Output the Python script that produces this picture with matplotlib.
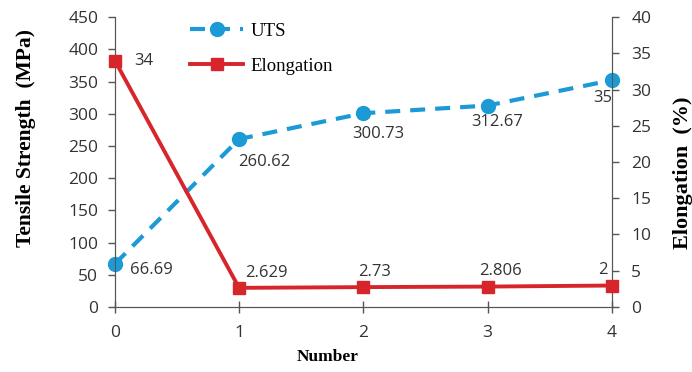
import matplotlib.pyplot as plt

# -----------------------------
# Data
# -----------------------------

numbers = [0, 1, 2, 3, 4]
uts = [66.69, 260.62, 300.73, 312.67, 352.0]
elongation = [34.0, 2.629, 2.73, 2.806, 2.95]

uts_labels = ["66.69", "260.62", "300.73", "312.67", "35"]
elong_labels = ["34", "2.629", "2.73", "2.806", "2"]

BLUE = "#1b9ad6"
RED = "#d7262b"
TICK_FONT = "Open Sans"
LABEL_FONT = "Liberation Serif"

fig = plt.figure(figsize=(6.92, 3.72), dpi=100)
ax = fig.add_axes([0.166, 0.175, 0.718, 0.779])
ax2 = ax.twinx()

l1, = ax.plot(numbers, uts, color=BLUE, lw=3, ls=(0, (3.6, 2.4)),
              marker="o", ms=10, label="UTS", clip_on=False, zorder=3)
l2, = ax2.plot(numbers, elongation, color=RED, lw=2.8,
               marker="s", ms=8.5, label="Elongation", clip_on=False, zorder=3)

ax.set_xlim(0, 4)
ax.set_ylim(0, 450)
ax2.set_ylim(0, 40)
ax.set_xticks(numbers)
ax.set_yticks(range(0, 451, 50))
ax2.set_yticks(range(0, 41, 5))

for a in (ax, ax2):
    a.spines["top"].set_visible(False)
    for s in a.spines.values():
        s.set_color("#555555")
    a.tick_params(colors="#555555", labelcolor="#333333", labelsize=12.5,
                  width=1, length=5, pad=7)
    for t in a.get_xticklabels() + a.get_yticklabels():
        t.set_fontfamily(TICK_FONT)
ax.tick_params(axis="x", direction="inout", length=8, pad=9)
ax2.tick_params(axis="y", pad=9)

ax.set_xlabel("Number", fontfamily=LABEL_FONT, fontweight="bold", fontsize=12.5)
ax.xaxis.set_label_coords(0.429, -0.145)
ax.set_ylabel("Tensile Strength  (MPa)", fontfamily=LABEL_FONT,
              fontweight="bold", fontsize=15.5)
ax.yaxis.set_label_coords(-0.158, 0.583)
ax2.set_ylabel("Elongation  (%)", fontfamily=LABEL_FONT,
               fontweight="bold", fontsize=16)
ax2.yaxis.set_label_coords(1.123, 0.462)

# data labels (offsets in points)
uts_offsets = [(11, -4), (-1, -16.5), (-8, -15), (-11.5, -12), (-13, -13)]
for x, y, s, off in zip(numbers, uts, uts_labels, uts_offsets):
    ax.annotate(s, (x, y), xytext=off, textcoords="offset points",
                fontfamily=TICK_FONT, fontsize=12, color="#333333",
                ha="left", va="center")

elong_offsets = [(14, 0), (4.5, 11), (-4, 11), (-6, 11), (-10, 11)]
for x, y, s, off in zip(numbers, elongation, elong_labels, elong_offsets):
    ax2.annotate(s, (x, y), xytext=off, textcoords="offset points",
                 fontfamily=TICK_FONT, fontsize=12, color="#333333",
                 ha="left", va="center")

fig.legend(handles=[l1, l2], loc="upper left", bbox_to_anchor=(0.256, 0.975),
           frameon=False, prop={"family": LABEL_FONT, "size": 13.5},
           handlelength=2.8, labelspacing=0.97, handletextpad=0.43,
           borderpad=0.2)

fig.savefig("out.png", dpi=100)
